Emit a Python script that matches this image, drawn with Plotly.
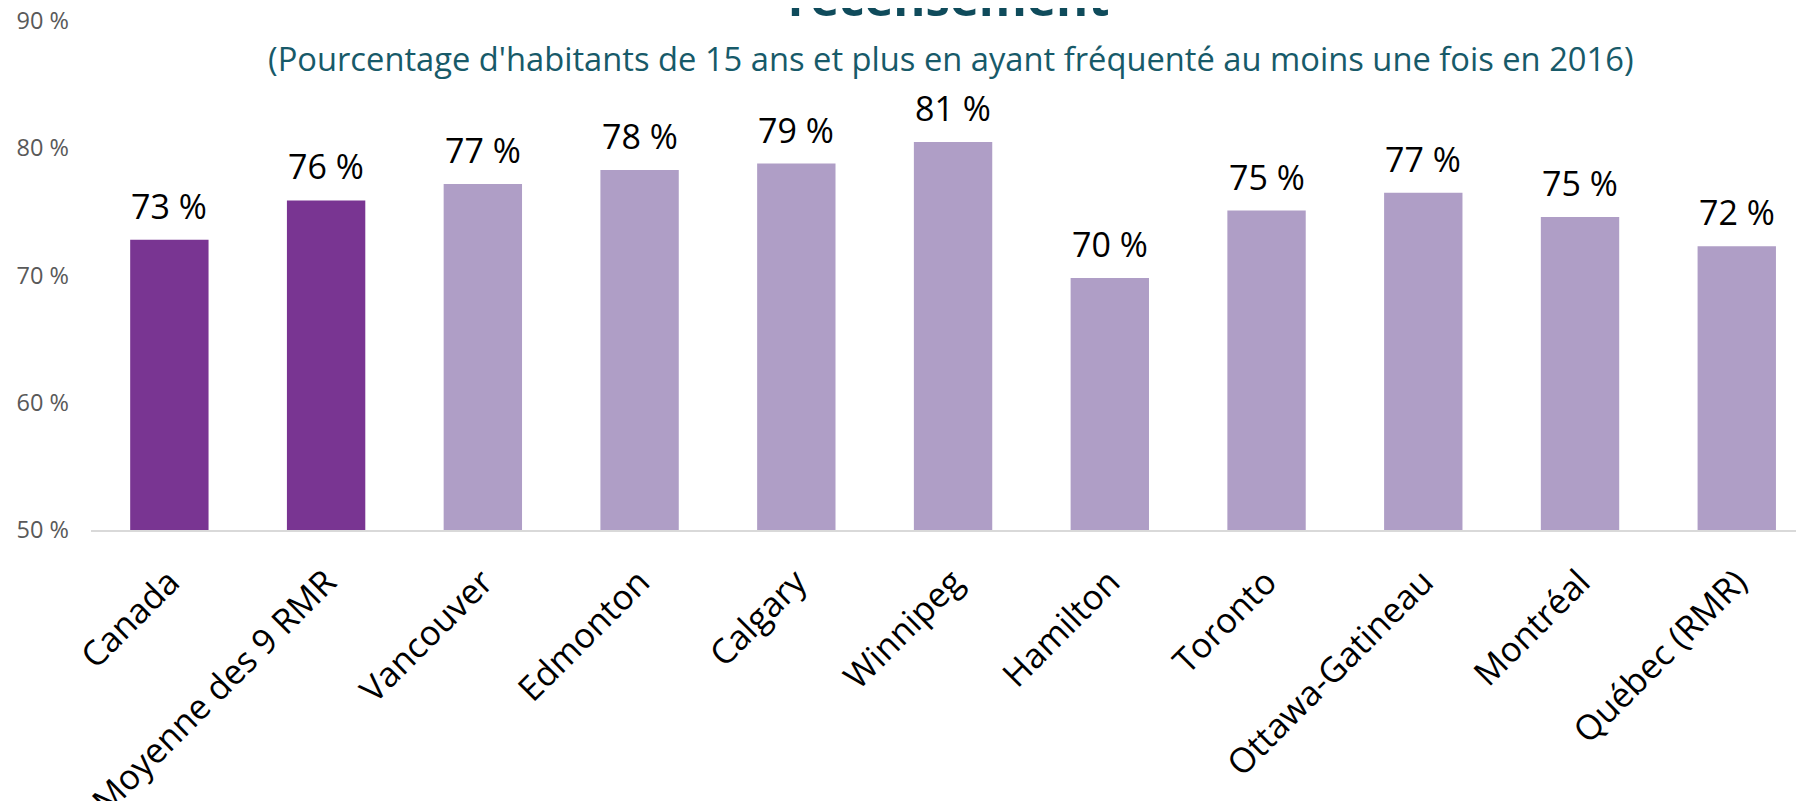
import plotly.graph_objects as go

categories = ["Canada", "Moyenne des 9 RMR", "Vancouver", "Edmonton", "Calgary", "Winnipeg",
              "Hamilton", "Toronto", "Ottawa-Gatineau", "Montréal", "Québec (RMR)"]
values = [72.8, 75.9, 77.2, 78.3, 78.8, 80.5, 69.8, 75.1, 76.5, 74.6, 72.3]
labels = ["73 %", "76 %", "77 %", "78 %", "79 %", "81 %", "70 %", "75 %", "77 %", "75 %", "72 %"]
colors = ["#793592", "#793592"] + ["#AF9EC6"] * 9
y_ticks = [50, 60, 70, 80, 90]
title_text = "recensement"
subtitle_text = "(Pourcentage d'habitants de 15 ans et plus en ayant fréquenté au moins une fois en 2016)"

FONT = "Open Sans"

fig = go.Figure()
fig.add_trace(go.Bar(
    x=categories, y=values, marker=dict(color=colors, line=dict(width=0)),
    width=0.5, showlegend=False, hoverinfo="skip",
))

annotations = []
for c, v, t in zip(categories, values, labels):
    annotations.append(dict(x=c, y=v, xref="x", yref="y", text=t, showarrow=False,
                            yanchor="bottom", yshift=9,
                            font=dict(family=FONT, size=34, color="#000000")))

annotations.append(dict(x=0.4985, y=1 - 11.0 / 509, xref="paper", yref="paper",
                        text="<b>" + title_text + "</b>", showarrow=False,
                        xanchor="center", yanchor="bottom",
                        font=dict(family=FONT, size=49, color="#0F4B5B")))
annotations.append(dict(x=0.4997, y=1 - 37.5 / 509, xref="paper", yref="paper",
                        text=subtitle_text, showarrow=False,
                        xanchor="center", yanchor="middle",
                        font=dict(family=FONT, size=32.7, color="#175A69")))

fig.update_layout(
    width=1804, height=801,
    margin=dict(l=83, r=0, t=13, b=279, pad=0),
    paper_bgcolor="white", plot_bgcolor="white",
    annotations=annotations,
    xaxis=dict(range=[-0.5, 10.48], showgrid=False, showline=True, linecolor="#D9D9D9",
               linewidth=2, ticks="", tickangle=-45, automargin=False,
               tickfont=dict(family=FONT, size=34.5, color="#000000"),
               ticklabelstandoff=16, zeroline=False, ticklabeloverflow="allow"),
    yaxis=dict(range=[50, 90], tickvals=y_ticks, automargin=False,
               ticktext=[f"{t} %" for t in y_ticks],
               showgrid=False, showline=False, zeroline=False, ticks="",
               tickfont=dict(family=FONT, size=23.5, color="#595959"),
               ticklabelstandoff=21, ticklabeloverflow="allow"),
)

fig.write_html("out.html")
